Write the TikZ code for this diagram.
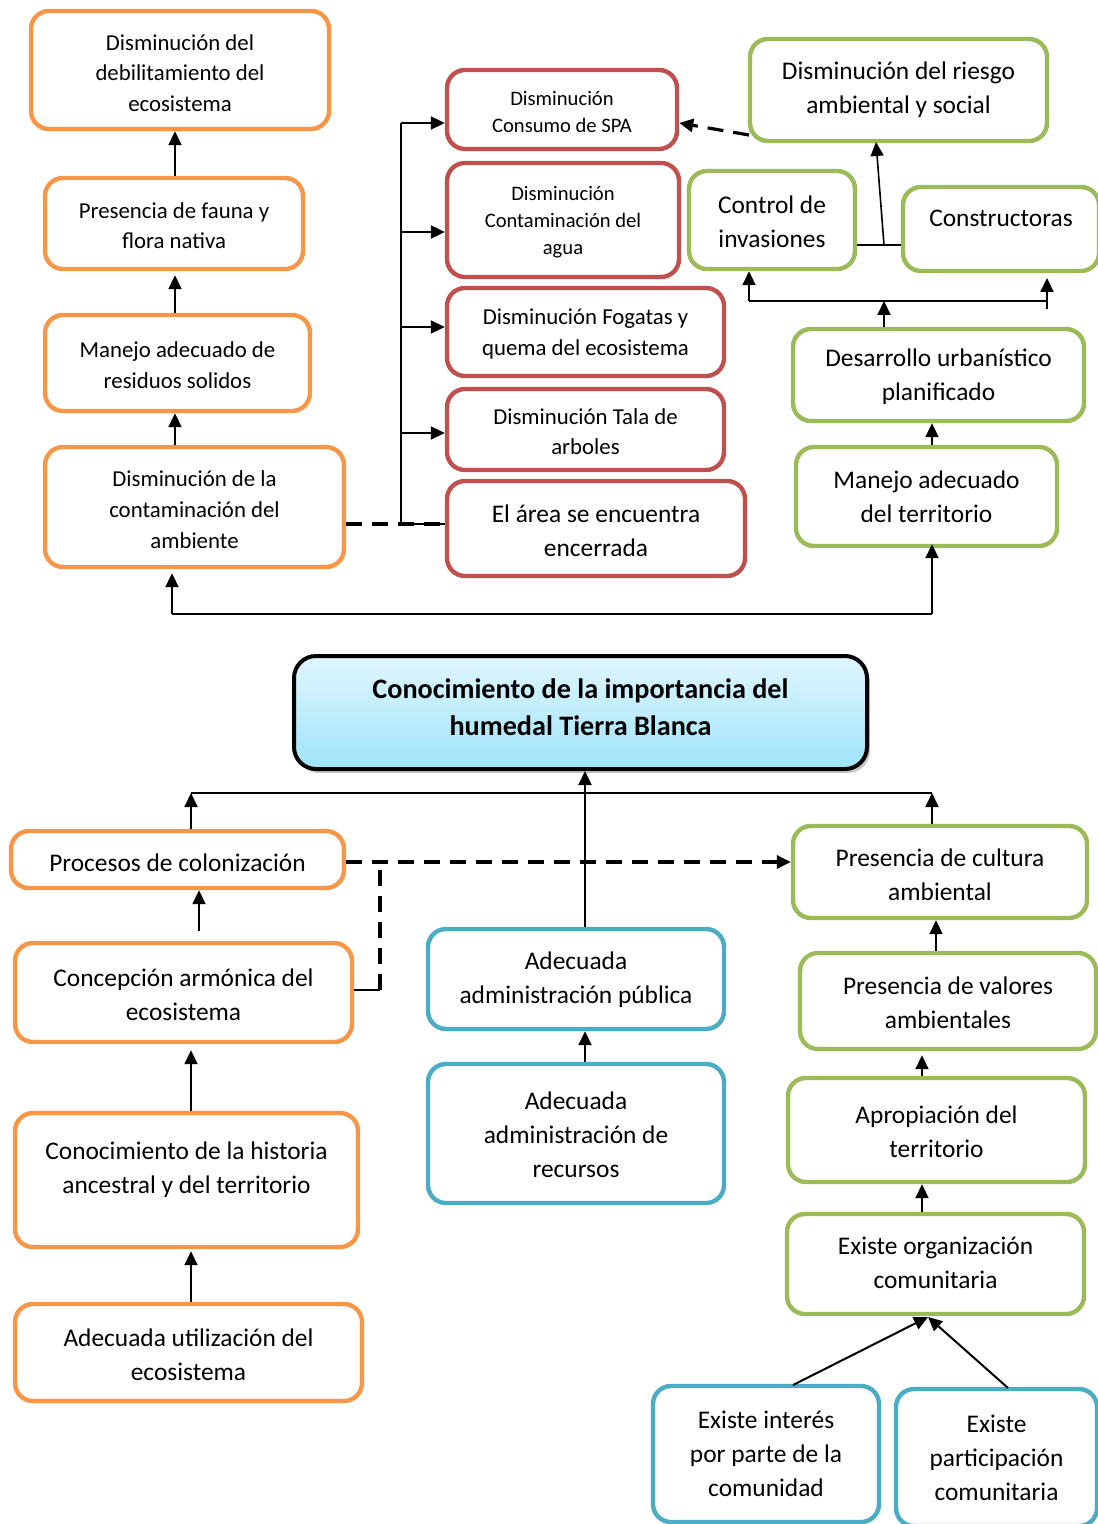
\documentclass[tikz,border=0pt]{standalone}
\usepackage{fontspec}
\setmainfont{Carlito}
\usetikzlibrary{fit,arrows.meta,shadows,calc}
\definecolor{orng}{RGB}{247,150,70}
\definecolor{redb}{RGB}{192,80,77}
\definecolor{grnb}{RGB}{155,187,89}
\definecolor{blub}{RGB}{75,172,198}
\definecolor{ttop}{RGB}{224,246,253}
\definecolor{tbot}{RGB}{158,228,250}
\tikzset{
  base/.style={draw, rounded corners=9pt, line width=2.2pt, inner sep=0pt, fill=white},
  ob/.style={base, draw=orng},
  rb/.style={base, draw=redb},
  gb/.style={base, draw=grnb},
  bb/.style={base, draw=blub},
  txt/.style={align=center, inner sep=0pt, text=black},
  fL/.style={txt, font=\fontsize{12.7}{17}\selectfont},
  fM/.style={txt, font=\fontsize{11.4}{15.3}\selectfont},
  fS/.style={txt, font=\fontsize{10.3}{13.5}\selectfont},
  arr/.style={-{Triangle[length=7pt,width=6.5pt]}, line width=1pt},
  thinl/.style={line width=0.8pt},
  dsh/.style={dash pattern=on 8pt off 5pt, line width=1.6pt},
}
% #1 box style, #2 font style, #3 name, #4 corner, #5 corner, #6 text, #7 text shift
\newcommand{\mkbox}[7]{%
  \node[#1, fit={(#4)(#5)}] (#3) {};
  \node[#2, yshift=#7] (#3t) at (#3.center) {#6};
}
\begin{document}
\begin{tikzpicture}[x=0.5pt, y=-0.5pt]
\useasboundingbox (0,0) rectangle (1097,1524);
% top-left orange column
\mkbox{ob}{fM}{A1}{31,11}{329,129}{Disminución del\\debilitamiento del\\ecosistema}{-1.5pt}
\mkbox{ob}{fM}{A2}{45,178}{303,269}{Presencia de fauna y\\flora nativa}{-1pt}
\mkbox{ob}{fM}{A3}{45,315}{310,411}{Manejo adecuado de\\residuos solidos}{-1pt}
\mkbox{ob}{fM}{A4}{45,447}{344,567}{Disminución de la\\contaminación del\\ambiente}{-1.3pt}
% red column
\mkbox{rb}{fS}{R1}{447,70}{677,149}{Disminución\\Consumo de SPA}{-1pt}
\mkbox{rb}{fS}{R2}{447,163}{679,277}{Disminución\\Contaminación del\\agua}{-1pt}
\mkbox{rb}{fM}{R3}{447,288}{724,376}{Disminución Fogatas y\\quema del ecosistema}{-1pt}
\mkbox{rb}{fM}{R4}{447,389}{724,470}{Disminución Tala de\\arboles}{-1pt}
\mkbox{rb}{fL}{R5}{447,481}{745,576}{El área se encuentra\\encerrada}{-1pt}
% green top right
\mkbox{gb}{fL}{G1}{750,39}{1047,141}{Disminución del riesgo\\ambiental y social}{0pt}
\mkbox{gb}{fL}{G2}{689,171}{855,269}{Control de\\invasiones}{-1pt}
\mkbox{gb}{fL}{G3}{903,187}{1099,271}{Constructoras}{5.5pt}
\mkbox{gb}{fL}{G4}{793,329}{1084,421}{Desarrollo urbanístico\\planificado}{-1pt}
\mkbox{gb}{fL}{G5}{796,447}{1057,546}{Manejo adecuado\\del territorio}{0pt}
% title
\node[draw=black, line width=2pt, rounded corners=11pt, top color=ttop, bottom color=tbot,
      drop shadow={shadow xshift=1.5pt, shadow yshift=-2pt, opacity=0.45},
      inner sep=0pt, fit={(294,656)(867,769)}] (T) {};
\node[txt, font=\bfseries\fontsize{14.1}{18.5}\selectfont, yshift=2.5pt] (Tt) at (T.center)
      {Conocimiento de la importancia del\\humedal Tierra Blanca};
% bottom-left orange
\mkbox{ob}{fL}{B1}{11,831}{344,888}{Procesos de colonización}{-1.5pt}
\mkbox{ob}{fL}{B2}{15,943}{352,1042}{Concepción armónica del\\ecosistema}{-1pt}
\mkbox{ob}{fL}{B3}{15,1113}{358,1247}{Conocimiento de la historia\\ancestral y del territorio}{5pt}
\mkbox{ob}{fL}{B4}{15,1304}{362,1401}{Adecuada utilización del\\ecosistema}{-1pt}
% blue middle
\mkbox{bb}{fL}{C1}{428,929}{724,1029}{Adecuada\\administración pública}{-0.5pt}
\mkbox{bb}{fL}{C2}{428,1064}{724,1203}{Adecuada\\administración de\\recursos}{-0.5pt}
% green bottom right
\mkbox{gb}{fL}{H1}{793,826}{1087,918}{Presencia de cultura\\ambiental}{-1.5pt}
\mkbox{gb}{fL}{H2}{800,953}{1096,1049}{Presencia de valores\\ambientales}{-1pt}
\mkbox{gb}{fL}{H3}{788,1078}{1085,1182}{Apropiación del\\territorio}{-1pt}
\mkbox{gb}{fL}{H4}{787,1214}{1084,1314}{Existe organización\\comunitaria}{0.5pt}
% blue bottom
\mkbox{bb}{fL}{D1}{653,1386}{879,1522}{Existe interés\\por parte de la\\comunidad}{0pt}
\mkbox{bb}{fL}{D2}{896,1389}{1097,1526}{Existe\\participación\\comunitaria}{0pt}

% ---- coordinates
\coordinate (x175) at (175,0);
\coordinate (bus1) at (401,123);
\coordinate (bus2) at (401,232);
\coordinate (bus3) at (401,327);
\coordinate (bus4) at (401,433);
\coordinate (bus5) at (401,524);
\coordinate (g1a) at (749,135);
\coordinate (gj) at (884,245);
\coordinate (g1in) at (876,142);
\coordinate (gbus) at (884,301);
\coordinate (gl) at (749,301);
\coordinate (gr) at (1047,301);
\coordinate (gr2) at (1047,309);
\coordinate (grt) at (1047,278);
\coordinate (x932) at (932,0);
\coordinate (lb1) at (172,614);
\coordinate (lb2) at (932,614);
\coordinate (tb1) at (191,793);
\coordinate (tb2) at (932,793);
\coordinate (x585) at (585,0);
\coordinate (x199) at (199,0);
\coordinate (x191) at (191,0);
\coordinate (dy) at (0,862);
\coordinate (dv) at (380,990);
\coordinate (x936) at (936,0);
\coordinate (x922) at (922,0);
\coordinate (d1o) at (793,1385);
\coordinate (d2o) at (1008,1388);
\coordinate (h4in) at (928,1317);

% ---- connectors top-left
\draw[arr] (A2.north -| x175) -- (A1.south -| x175);
\draw[arr] (A3.north -| x175) -- ($(A2.south -| x175)+(0,4)$);
\draw[arr] (A4.north -| x175) -- (A3.south -| x175);
% red bus
\draw[thinl] (bus1) -- (bus5);
\draw[arr] (bus1) -- (bus1 -| R1.west);
\draw[arr] (bus2) -- (bus2 -| R2.west);
\draw[arr] (bus3) -- (bus3 -| R3.west);
\draw[arr] (bus4) -- (bus4 -| R4.west);
\draw[thinl] (bus5) -- (bus5 -| R5.west);
\draw[dsh] (bus5 -| A4.east) -- (bus5 -| R5.west);
% green top right
\draw[dsh, -{Triangle[length=7pt,width=6.5pt]}] (g1a) -- (bus1 -| R1.east);
\draw[thinl] (gj -| G2.east) -- (gj -| G3.west);
\draw[thinl, -{Triangle[length=7pt,width=6.5pt]}] (gj) -- (g1in);
\draw[arr] (gbus |- G4.north) -- (gbus);
\draw[thinl] (gl) -- (gr);
\draw[arr] (gl) -- (gl |- G2.south);
\draw[arr] (gr2) -- (grt);
\draw[arr] (G5.north -| x932) -- (G4.south -| x932);
% long bottom connector
\draw[thinl] (lb1) -- (lb2);
\draw[arr] (lb1) -- ($(lb1 |- A4.south)+(0,4)$);
\draw[arr] (lb2) -- ($(lb2 |- G5.south)+(0,-4)$);
% title connectors
\draw[thinl] (tb1) -- (tb2);
\draw[arr] (B1.north -| x191) -- (tb1);
\draw[arr] (H1.north -| x932) -- (tb2);
\draw[arr] (C1.north -| x585) -- (T.south -| x585);
% bottom-left
\draw[arr] ($(B2.north -| x199)+(0,-10)$) -- (B1.south -| x199);
\draw[arr] (B3.north -| x191) -- ($(B2.south -| x191)+(0,6)$);
\draw[arr] (B4.north -| x191) -- ($(B3.south -| x191)+(0,2)$);
\draw[dsh, -{Triangle[length=7pt,width=6.5pt]}] (B1.east |- dy) -- (H1.west |- dy);
\draw[thinl] (dv -| B2.east) -- (dv);
\draw[dsh] (dv) -- (dv |- dy);
% blue middle
\draw[arr] (C2.north -| x585) -- (C1.south -| x585);
% green bottom right
\draw[arr] (H2.north -| x936) -- (H1.south -| x936);
\draw[arr] (H3.north -| x922) -- ($(H2.south -| x922)+(0,4)$);
\draw[arr] (H4.north -| x922) -- (H3.south -| x922);
\draw[arr] (d1o) -- (h4in);
\draw[arr] (d2o) -- (h4in);
\end{tikzpicture}
\end{document}
